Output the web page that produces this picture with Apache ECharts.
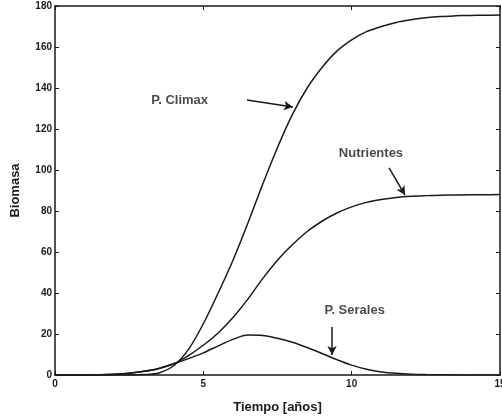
<!DOCTYPE html>
<html>
<head>
<meta charset="utf-8">
<script src="https://cdn.jsdelivr.net/npm/echarts@6/dist/echarts.min.js"></script>
<style>
html,body{margin:0;padding:0;background:#fff;}
#chart{width:502px;height:418px;}
</style>
</head>
<body>
<div id="chart"></div>
<script>
// Time (years)
const tiempo = [0,0.5,1,1.5,2,2.5,3,3.5,4,4.5,5,5.5,6,6.5,7,7.5,8,8.5,9,9.5,10,10.5,11,11.5,12,12.5,13,13.5,14,14.5,15];
const climax = [0,0,0,0,0,0,0.2,1,4.5,12.5,25,40,56,74,93,111,127,140,150,158,163.5,167.5,170,172,173.3,174.3,174.9,175.2,175.4,175.5,175.6];
const nutrientes = [0,0,0.05,0.15,0.4,0.9,1.8,3.2,5.5,9.5,14.5,20.5,28,37,47,56,63.5,70,75,79,82,84.2,85.6,86.6,87.2,87.5,87.7,87.8,87.9,87.9,88];
const serales = [0,0,0.05,0.15,0.4,0.9,1.8,3.2,5.5,8,10.8,14.2,17.4,19.5,19.3,17.9,16,13.4,10.5,7.5,4.8,2.8,1.5,0.8,0.4,0.2,0.1,0.05,0,0,0];
const xTicks = {min:0, max:15, interval:5};
const yTicks = {min:0, max:180, interval:20};
// Annotations: label position and arrow (from -> to), in data units
const annotations = [
  {text:'P. Climax',   at:[4.2,133.7], from:[6.47,134.1], to:[8.02,130.7]},
  {text:'Nutrientes',  at:[10.65,108.3], from:[11.26,101], to:[11.8,87.8]},
  {text:'P. Serales',  at:[10.1,31.7], from:[9.34,23.4], to:[9.34,9.8]}
];

const ink = '#1a1a1a';
const font = 'Liberation Sans, Arial, sans-serif';
const chart = echarts.init(document.getElementById('chart'));

function pairs(ys){ return tiempo.map((x,i)=>[x,ys[i]]); }
function lineSeries(name, ys){
  return {name, type:'line', data:pairs(ys), showSymbol:false, symbol:'none',
    smooth:0.3,
    lineStyle:{color:ink, width:1.5}, z:3, animation:false};
}
const axisCommon = {
  axisLine:{show:true, onZero:false, lineStyle:{color:ink, width:1.5}},
  axisTick:{show:true, inside:true, length:4, lineStyle:{color:ink, width:1}},
  splitLine:{show:false}
};

const option = {
  backgroundColor:'#fff',
  animation:false,
  grid:{left:55, right:2, top:6, bottom:43, containLabel:false, outerBoundsMode:'none'},
  xAxis:[
    Object.assign({type:'value', position:'bottom', min:xTicks.min, max:xTicks.max, interval:xTicks.interval,
      name:'Tiempo [años]', nameLocation:'middle', nameGap:26,
      nameTextStyle:{fontFamily:font, fontSize:13, fontWeight:'bold', color:ink},
      axisLabel:{fontFamily:font, fontSize:10, fontWeight:'bold', color:ink, margin:4}}, axisCommon),
    Object.assign({type:'value', position:'top', min:xTicks.min, max:xTicks.max, interval:xTicks.interval,
      axisLabel:{show:false}}, axisCommon)
  ],
  yAxis:[
    Object.assign({type:'value', position:'left', min:yTicks.min, max:yTicks.max, interval:yTicks.interval,
      name:'Biomasa', nameLocation:'middle', nameGap:33,
      nameTextStyle:{fontFamily:font, fontSize:13, fontWeight:'bold', color:ink},
      axisLabel:{fontFamily:font, fontSize:10, fontWeight:'bold', color:ink, margin:3}}, axisCommon),
    Object.assign({type:'value', position:'right', min:yTicks.min, max:yTicks.max, interval:yTicks.interval,
      axisLabel:{show:false}}, axisCommon)
  ],
  series:[
    lineSeries('P. Climax', climax),
    lineSeries('Nutrientes', nutrientes),
    lineSeries('P. Serales', serales),
    {
      type:'scatter', data:annotations.map(a=>({value:a.at, name:a.text})),
      symbolSize:0, silent:true,
      label:{show:true, position:'inside', formatter:p=>p.name,
        fontFamily:font, fontSize:13, fontWeight:'bold', color:ink},
      markLine:{
        silent:true, symbol:['none','arrow'], symbolSize:[7,9],
        lineStyle:{color:ink, width:1.5, type:'solid'},
        label:{show:false},
        data: annotations.map(a=>[{coord:a.from},{coord:a.to}])
      },
      z:5
    }
  ]
};
chart.setOption(option);
</script>
</body>
</html>
